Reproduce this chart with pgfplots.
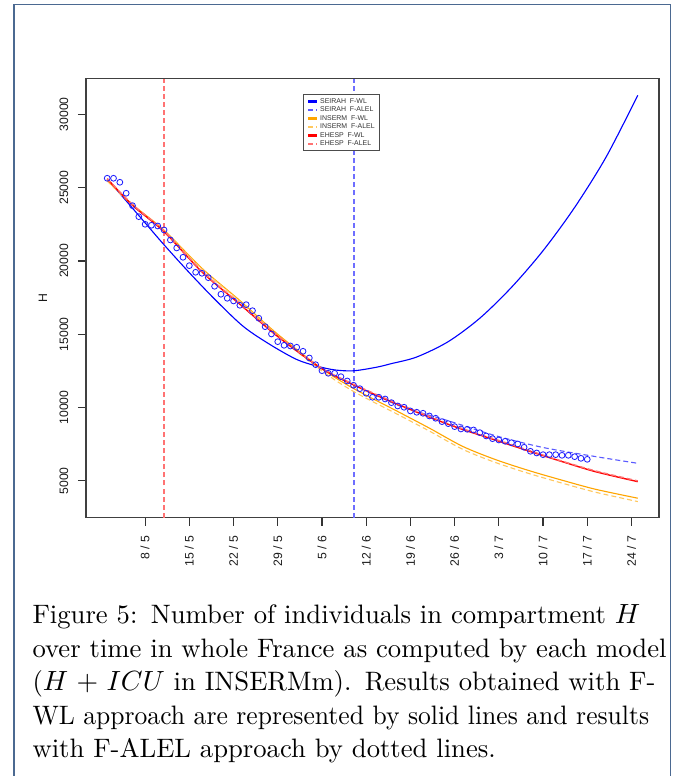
\documentclass[border=0pt]{standalone}
\usepackage{fontspec}
\usepackage{graphicx}
\usepackage{pgfplots}
\pgfplotsset{compat=1.18}
\newfontfamily\arial{Liberation Sans}
\definecolor{sbluel}{RGB}{90,90,255}
\definecolor{vblue}{RGB}{110,110,255}
\definecolor{iorange}{RGB}{255,165,0}
\definecolor{iorangel}{RGB}{255,200,95}
\definecolor{eredl}{RGB}{255,115,115}
\definecolor{framec}{RGB}{75,105,145}
\begin{document}
\begin{tikzpicture}
\useasboundingbox (0pt,0pt) rectangle (243.36pt,-279.36pt);
\draw[framec, line width=0.6pt] (5.04pt,-285pt) -- (5.04pt,-1.62pt) -- (241.38pt,-1.62pt) -- (241.38pt,-285pt);
\begin{axis}[
  at={(30.96pt,-186.37pt)}, anchor=south west,
  width=206.28pt, height=158.04pt, scale only axis,
  xmin=-2.36, xmax=88.36, ymin=2490, ymax=32430,
  axis line style={black!75, line width=0.45pt},
  xtick={7,14,21,28,35,42,49,56,63,70,77,84},
  xticklabels={8 / 5,15 / 5,22 / 5,29 / 5,5 / 6,12 / 6,19 / 6,26 / 6,3 / 7,10 / 7,17 / 7,24 / 7},
  ytick={5000,10000,15000,20000,25000,30000},
  scaled y ticks=false,
  /pgf/number format/1000 sep={},
  /pgf/number format/assume math mode=true,
  tick align=outside, major tick length=2.88pt,
  xtick pos=bottom, ytick pos=left,
  tick style={black!80, line width=0.4pt},
  ticklabel style={font=\arial\fontsize{4.4}{5}\selectfont, text=black!90},
  yticklabel style={rotate=90, anchor=south},
  xticklabel style={rotate=90, anchor=east},
  ylabel={H},
  ylabel style={font=\arial\fontsize{4.4}{5}\selectfont, text=black!90, at={(axis description cs:-0.075,0.5)}, anchor=center},
  legend style={at={(axis description cs:0.3792,0.9645)}, anchor=north west, draw=black!70, line width=0.3pt, fill=white,
    inner xsep=1.2pt, inner ysep=1.2pt, font=\arial\fontsize{2.5}{2.9}\selectfont, text=black!80,
    nodes={inner xsep=0.7pt, inner ysep=0pt, text height=1.9pt, text depth=0.6pt}, row sep=0.56pt},
  legend cell align=left,
  legend image code/.code={\draw[#1, line width=0.75pt] (1.6pt,0pt) -- (4.9pt,0pt);},
]
\addplot[eredl, line width=0.5pt, dash pattern=on 1.8pt off 1.1pt, forget plot] coordinates {(10,2490) (10,32430)};
\addplot[vblue, line width=0.68pt, dash pattern=on 1.8pt off 1.1pt, forget plot] coordinates {(40,2490) (40,32430)};
% SEIRAH F-WL
\addplot[color=blue, line width=0.4pt, smooth] coordinates {
(1,25600) (4,24100) (7,22600) (10,21100) (14,19200) (18,17400) (22.5,15550) (26.7,14320) (30.9,13300) (34,12850) (37,12570) (40,12510) (43.6,12750) (46,13000) (50,13450) (55,14500) (60,16100) (65,18200) (70,20700) (75,23650) (80,27100) (85,31300)};
\addlegendentry{SEIRAH~~F-WL}
% SEIRAH F-ALEL
\addplot[sbluel, line width=0.4pt, dash pattern=on 1.8pt off 1.1pt, smooth] coordinates {
(1,25600) (5,23800) (10,22000) (16,19300) (22,17050) (28,14850) (35,12650) (40,11550) (44,10750) (48,10000) (55,9100) (62.5,8080) (70,7280) (78,6680) (85,6200)};
\addlegendentry{SEIRAH~~F-ALEL}
% INSERM F-WL
\addplot[iorange, line width=0.4pt, smooth] coordinates {
(1,25500) (5,23850) (10,22100) (16,19500) (22,17300) (28,15000) (35,12650) (40,11300) (46.7,9800) (52,8600) (57.3,7350) (62.5,6450) (67.8,5700) (73,5050) (78.3,4430) (85,3820)};
\addlegendentry{INSERM~~F-WL}
% INSERM F-ALEL
\addplot[iorangel, line width=0.4pt, dash pattern=on 1.8pt off 1.1pt, smooth] coordinates {
(1,25450) (5,23800) (10,22050) (16,19450) (22,17250) (28,14900) (35,12500) (40,11100) (46.7,9600) (52,8400) (57.3,7150) (62.5,6250) (67.8,5500) (73,4850) (78.3,4230) (85,3590)};
\addlegendentry{INSERM~~F-ALEL}
% EHESP F-WL
\addplot[color=red, line width=0.5pt, smooth] coordinates {
(1,25600) (5,23800) (10,22000) (16,19250) (22,17050) (28,14850) (35,12650) (40.5,11450) (46,10400) (52,9350) (57,8550) (62.5,7780) (68,7000) (73,6320) (78.3,5630) (85,4950)};
\addlegendentry{EHESP~~F-WL}
% EHESP F-ALEL
\addplot[eredl, line width=0.5pt, dash pattern=on 1.8pt off 1.1pt, smooth] coordinates {
(1,25620) (5,23850) (10,22050) (16,19300) (22,17100) (28,14900) (35,12680) (40.5,11500) (46,10450) (52,9400) (57,8600) (62.5,7830) (68,7050) (73,6350) (78.3,5680) (85,5000)};
\addlegendentry{EHESP~~F-ALEL}
% observed
\addplot[only marks, mark=o, mark size=1.05pt, mark options={draw={rgb,255:red,30;green,30;blue,255}, line width=0.3pt}, forget plot] coordinates {
(1,25640) (2,25640) (3,25367) (4,24617) (5,23772) (6,23021) (7,22503) (8,22435) (9,22387) (10,22114)
(11,21432) (12,20887) (13,20252) (14,19680) (15,19229) (16,19161) (17,18861) (18,18274) (19,17729) (20,17456)
(21,17272) (22,16979) (23,17020) (24,16610) (25,16092) (26,15519) (27,15021) (28,14496) (29,14250) (30,14203)
(31,14114) (32,13841) (33,13384) (34,12927) (35,12518) (36,12341) (37,12341) (38,12109) (39,11816) (40,11522)
(41,11290) (42,10977) (43,10704) (44,10704) (45,10588) (46,10336) (47,10111) (48,10022) (49,9770) (50,9681)
(51,9613) (52,9430) (53,9272) (54,9043) (55,8906) (56,8702) (57,8542) (58,8521) (59,8474) (60,8290)
(61,8065) (62,7881) (63,7792) (64,7702) (65,7607) (66,7519) (67,7294) (68,7021) (69,6906) (70,6790)
(71,6790) (72,6790) (73,6745) (74,6745) (75,6654) (76,6540) (77,6472)};
\end{axis}
\node[anchor=north west, text width=224.28pt, align=left, inner sep=0pt, font=\fontsize{9.6}{12.06}\selectfont] at (11.52pt,-217.44pt)
{\makebox[224.28pt][s]{Figure 5: Number of individuals in compartment $H$}\\
\makebox[224.28pt][s]{over time in whole France as computed by each model}\\
\makebox[224.28pt][s]{($H+ICU$ in INSERMm). Results obtained with F-}\\
\scalebox{0.96}[1]{\makebox[233.6pt][s]{WL approach are represented by solid lines and results}}\\
with F-ALEL approach by dotted lines.};
\end{tikzpicture}
\end{document}
